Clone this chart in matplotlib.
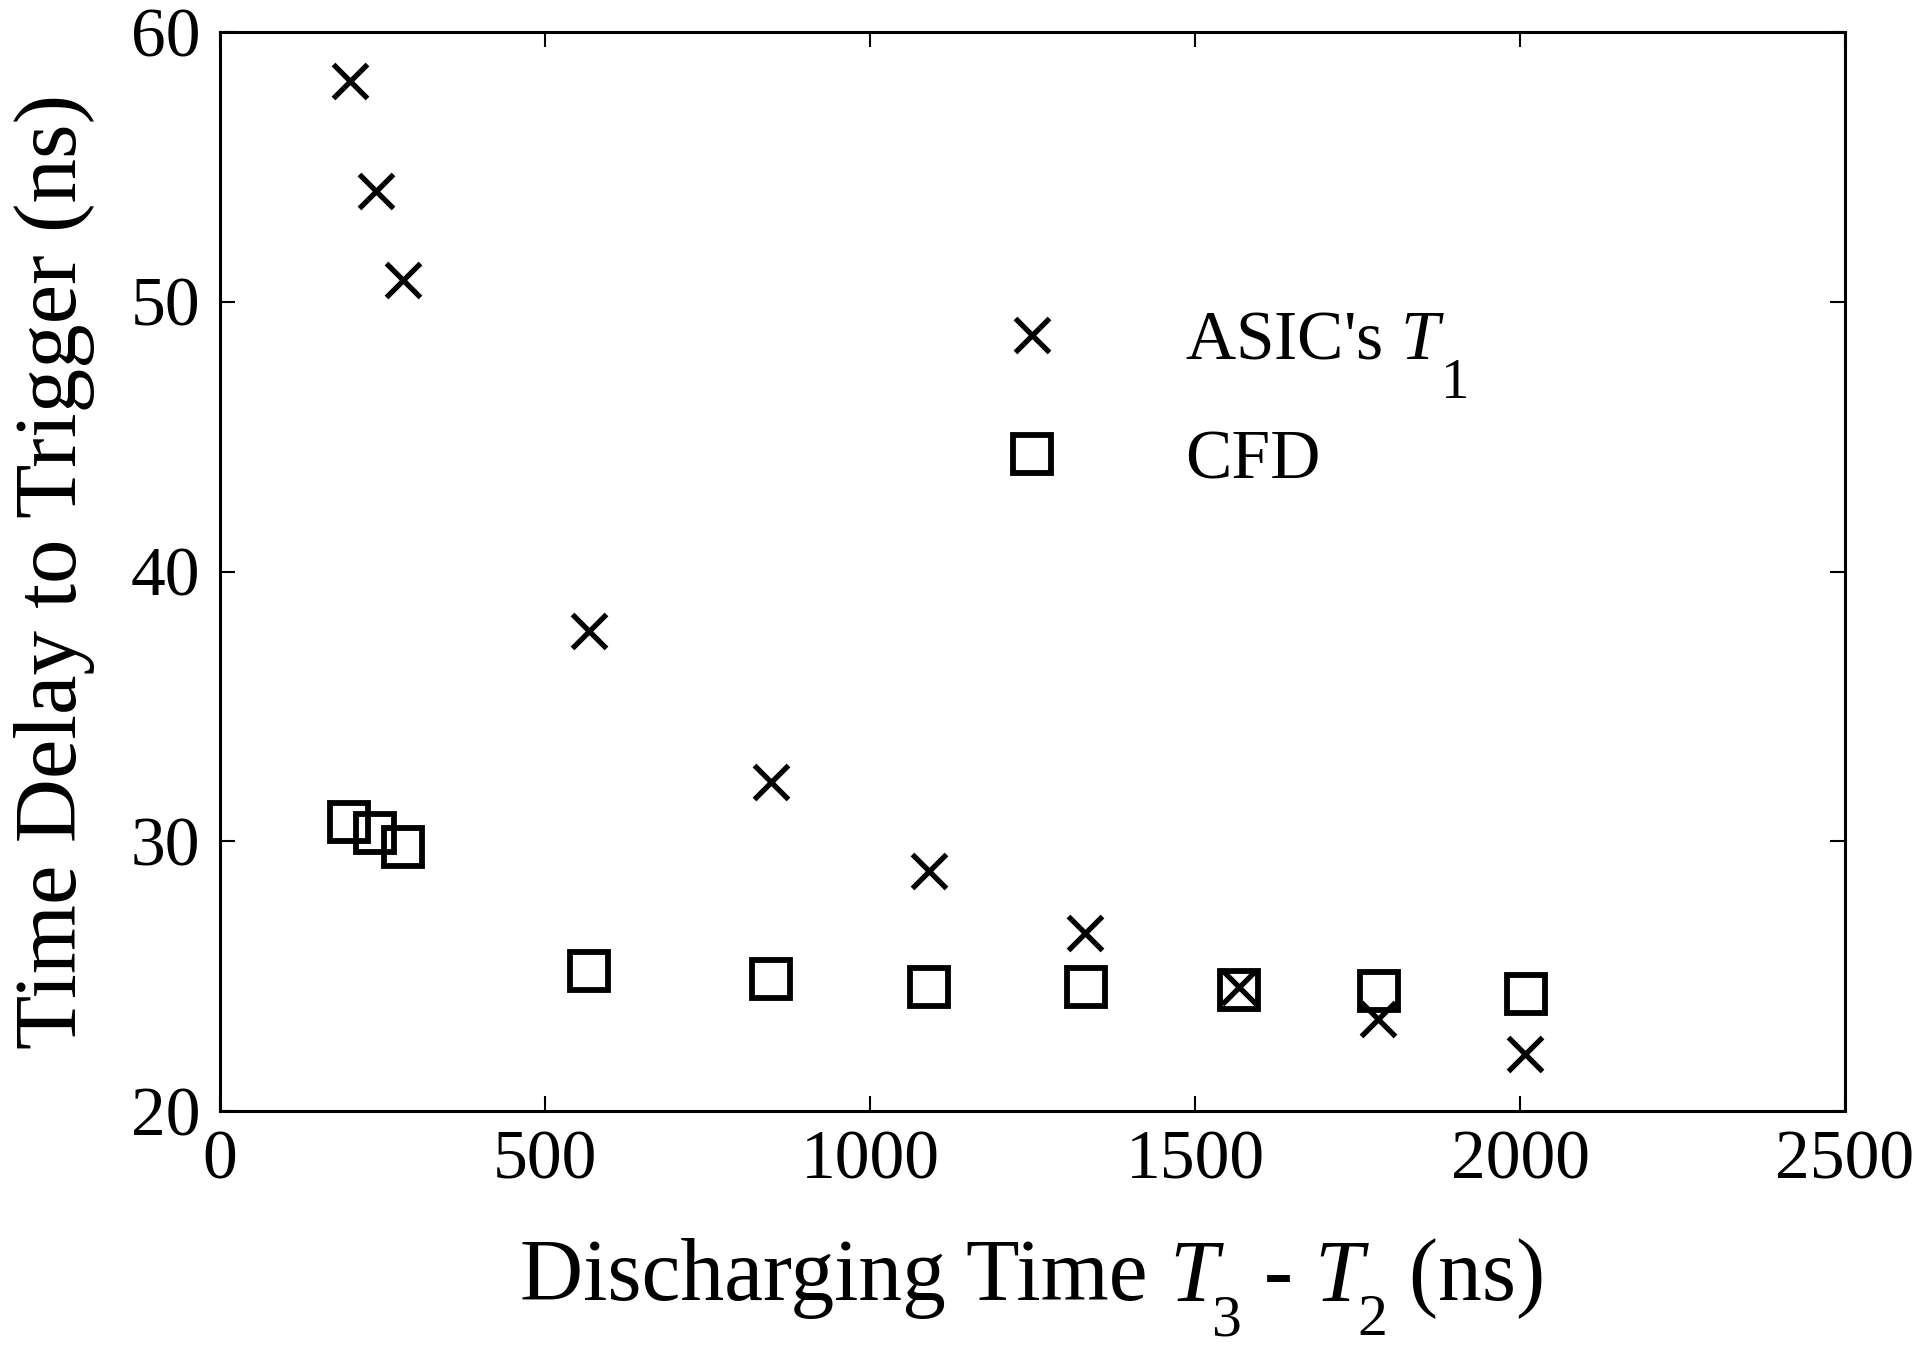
import matplotlib
matplotlib.use("Agg")
import matplotlib.pyplot as plt

plt.rcParams['font.family'] = ['Liberation Serif', 'DejaVu Serif']
plt.rcParams['mathtext.fontset'] = 'custom'
plt.rcParams['mathtext.rm'] = 'Liberation Serif'
plt.rcParams['mathtext.it'] = 'Liberation Serif:italic'

# Data
asic_x = [200, 240, 281, 567, 847, 1090, 1331, 1568, 1781, 2007]
asic_y = [58.2, 54.1, 50.8, 37.8, 32.2, 28.9, 26.6, 24.6, 23.4, 22.1]
cfd_x = [199, 239, 281, 568, 847, 1090, 1333, 1568, 1783, 2009]
cfd_y = [30.7, 30.3, 29.8, 25.2, 24.9, 24.6, 24.6, 24.5, 24.45, 24.35]
xticks = [0, 500, 1000, 1500, 2000, 2500]
yticks = [20, 30, 40, 50, 60]

W, H = 1920, 1356
fig = plt.figure(figsize=(W / 100, H / 100), dpi=100)
ax = fig.add_axes([220/W, 1 - 1111/H, 1625/W, 1079/H])

ax.plot(asic_x, asic_y, linestyle='none', marker='x', ms=25, mew=3.8,
        color='black', label="ASIC's $T$")
ax.plot(cfd_x, cfd_y, linestyle='none', marker='s', ms=28, mew=4.2,
        markerfacecolor='none', markeredgecolor='black', label='CFD')

ax.set_xlim(0, 2500)
ax.set_ylim(20, 60)
ax.set_xticks(xticks)
ax.set_yticks(yticks)
ax.tick_params(direction='in', length=11, width=1.5, top=True, right=True,
               labelsize=50, pad=14)
for s in ax.spines.values():
    s.set_linewidth(2.2)

ax.set_ylabel('Time Delay to Trigger (ns)', fontsize=64, labelpad=26)

leg = ax.legend(loc='upper left', bbox_to_anchor=(0.457, 0.742), frameon=False,
                fontsize=50, handlelength=2.0, handletextpad=1.2,
                borderpad=0, borderaxespad=0, labelspacing=0.8)

fig.canvas.draw()
r = fig.canvas.get_renderer()


def px_text(x, y, s, **kw):
    return fig.text(x / W, y / H, s, va='baseline', ha='left', **kw)


# legend subscript "1" (lowered as in the original)
bb = leg.get_texts()[0].get_window_extent(r)
px_text(bb.x1 - 4, bb.y0 - 24, '1', fontsize=41)

# x-axis label assembled with lowered subscripts
main_fs, sub_fs = 63, 43
sub_drop = 35
pieces = [
    ('Discharging Time ', dict(fontsize=main_fs), 0),
    ('T', dict(fontsize=main_fs, style='italic'), 0),
    ('3', dict(fontsize=sub_fs), -sub_drop),
    (' - ', dict(fontsize=main_fs), 0),
    ('T', dict(fontsize=main_fs, style='italic'), 0),
    ('2', dict(fontsize=sub_fs), -sub_drop),
    (' (ns)', dict(fontsize=main_fs), 0),
]
base_y = H - 1300
objs = []
widths = []
for s, kw, dy in pieces:
    t = px_text(0, base_y + dy, s, **kw)
    objs.append((t, dy))
    widths.append(t.get_window_extent(r).width)
adjust = [0, 0, -6, 0, 0, -6, 0]
total = sum(widths) + sum(adjust)
cx = 220 + 1625 / 2
x = cx - total / 2
for (t, dy), w, a in zip(objs, widths, adjust):
    x += a
    t.set_position((x / W, (base_y + dy) / H))
    x += w

fig.savefig('out.png', dpi=100)
